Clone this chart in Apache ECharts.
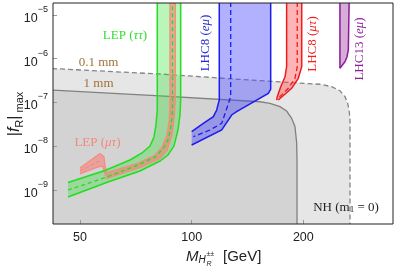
<!DOCTYPE html>
<html><head><meta charset="utf-8">
<script src="https://cdn.jsdelivr.net/npm/echarts@6/dist/echarts.min.js"></script>
<style>html,body{margin:0;padding:0;background:#fff}#c{width:399px;height:271px}</style>
</head><body><div id="c"></div>
<script>
// ---- axis ranges / ticks ----
const xRange = [42.29, 348.9];
const yRange = [1.671e-10, 1.88e-5];
const xTickValues = [50, 100, 200];
const xTickLabels = ['50', '100', '200'];

// ---- displaced-vertex region boundaries (0.1 mm dashed, 1 mm solid) ----
const curve01mm = [[40,6.1e-7],[82.14,4.48e-7],[152.8,3.15e-7],[221.8,2.61e-7],[238.4,2.30e-7],[251.0,1.86e-7],[259.0,1.36e-7],[263.4,9.59e-8],[266.0,6.16e-8],[267.2,3.98e-8],[267.2,1e-10]];
const curve1mm = [[40,1.96e-7],[82.14,1.41e-7],[152.8,1.04e-7],[162.6,9.59e-8],[173.0,8.02e-8],[180.3,6.39e-8],[186.0,4.35e-8],[189.9,2.80e-8],[191.9,1.19e-8],[192.3,4.85e-9],[192.3,1e-10]];

// ---- LEP (tau tau) band ----
const lepTauUpper = [[46.41,1.48e-9],[58.38,2.79e-9],[68.20,4.85e-9],[73.47,7.01e-9],[77.20,1.01e-8],[79.15,1.63e-8],[80.13,3.06e-8],[80.78,6.74e-8],[80.78,3e-5]];
const lepTauLower = [[46.41,6.92e-10],[59.48,1.52e-9],[72.56,2.72e-9],[82.14,4.60e-9],[86.33,6.31e-9],[89.60,1.01e-8],[91.85,2.35e-8],[93.00,5.18e-8],[93.40,1.14e-7],[93.40,3e-5]];
const lepTauCenter = [[46.41,1.0e-9],[59.48,2.03e-9],[71.67,3.73e-9],[79.63,5.68e-9],[83.69,8.65e-9],[86.33,1.39e-8],[87.95,2.75e-8],[88.78,6.74e-8],[88.78,3e-5]];

// ---- LEP (mu tau) band ----
const lepMuTauUpper = [[50,3.18e-9],[56.60,6.83e-9],[58.02,5.83e-9],[58.38,3.73e-9],[58.93,2.45e-9],[71.67,4.14e-9],[79.63,6.31e-9],[83.18,9.61e-9],[85.79,1.81e-8],[87.03,3.98e-8],[87.41,1.14e-7],[87.41,3e-5]];
const lepMuTauLower = [[50,2.32e-9],[55.90,3.36e-9],[57.67,3.45e-9],[58.20,2.58e-9],[59.11,1.83e-9],[73.34,3.36e-9],[82.14,5.25e-9],[85.79,7.79e-9],[88.50,1.81e-8],[89.88,5.18e-8],[90.33,1.14e-7],[90.33,3e-5]];
const lepMuTauCenter = [[50,2.72e-9],[56.6,4.72e-9]];

// ---- LHC8 (e mu) band ----
const lhc8EmuLeft = [[118.7,3e-5],[118.7,1.14e-7],[116.8,6.74e-8],[114.4,4.74e-8],[107.5,3.35e-8],[100.0,2.15e-8]];
const lhc8EmuRight = [[163.3,3e-5],[163.3,2.00e-7],[160.9,1.62e-7],[132.2,6.16e-8],[128.2,5.18e-8],[120.5,2.35e-8],[100.0,1.07e-8]];
const lhc8EmuCenter = [[127.4,3e-5],[127.4,1.36e-7],[124.8,8.02e-8],[120.5,3.35e-8],[112.0,2.35e-8],[101.0,1.65e-8]];

// ---- LHC8 (mu tau) band ----
const lhc8MuTauLeft = [[180.3,3e-5],[180.3,6.58e-7],[178.5,3.89e-7],[173.8,2.30e-7],[170.1,1.36e-7],[169.5,1.14e-7]];
const lhc8MuTauRight = [[198.0,3e-5],[198.0,6.58e-7],[193.8,3.57e-7],[186.0,2.11e-7],[171.2,1.14e-7]];
const lhc8MuTauCenter = [[192.6,3e-5],[192.6,6.58e-7],[189.9,3.57e-7],[182.2,2.11e-7],[171.2,1.25e-7]];

// ---- LHC13 (e mu) band ----
const lhc13EmuLeft = [[251.0,3e-5],[251.0,6.05e-7]];
const lhc13EmuRight = [[266.0,3e-5],[264.4,1.585e-6],[262.2,1.096e-6],[259.0,8.56e-7],[251.0,6.05e-7]];

// ---------------------------------------------------------------
function polygonSeries(pts, fill, z) {
  return {
    type: 'custom', coordinateSystem: 'cartesian2d', xAxisIndex: 0, yAxisIndex: 0,
    clip: true, silent: true, z: z, data: pts, encode: { x: 0, y: 1 },
    renderItem: function (params, api) {
      if (params.dataIndex !== 0) return null;
      return { type: 'polygon', shape: { points: pts.map(function (p) { return api.coord(p); }) },
        style: { fill: fill, stroke: null } };
    }
  };
}
function lineSeries(pts, stroke, width, dash, z) {
  return {
    type: 'custom', coordinateSystem: 'cartesian2d', xAxisIndex: 0, yAxisIndex: 0,
    clip: true, silent: true, z: z, data: pts, encode: { x: 0, y: 1 },
    renderItem: function (params, api) {
      if (params.dataIndex !== 0) return null;
      return { type: 'polyline', shape: { points: pts.map(function (p) { return api.coord(p); }) },
        style: { fill: null, stroke: stroke, lineWidth: width, lineDash: dash || null } };
    }
  };
}
function band(upper, lower) { return upper.concat(lower.slice().reverse()); }
function floorOf(curve) { return curve.concat([[40, 1e-10]]); }

const series = [
  polygonSeries(floorOf(curve01mm), '#e6e6e6', 1),
  polygonSeries(floorOf(curve1mm), '#d3d3d3', 2),
  lineSeries(curve01mm, '#858585', 1.3, [5, 3], 3),
  lineSeries(curve1mm, '#808080', 1.3, null, 3),

  polygonSeries(band(lepTauUpper, lepTauLower), 'rgba(40,225,40,0.32)', 4),
  polygonSeries(band(lepMuTauUpper, lepMuTauLower), 'rgba(250,120,110,0.55)', 5),
  lineSeries(lepMuTauUpper, '#f58c82', 1.3, null, 6),
  lineSeries(lepMuTauLower, '#f58c82', 1.3, null, 6),
  lineSeries(lepMuTauCenter, '#f58c82', 1.2, [4, 2], 6),
  lineSeries(lepTauUpper, '#22dd22', 1.5, null, 7),
  lineSeries(lepTauLower, '#22dd22', 1.5, null, 7),
  lineSeries(lepTauCenter, '#22dd22', 1.3, [4, 3], 7),

  polygonSeries(band(lhc8EmuLeft, lhc8EmuRight), 'rgba(70,70,255,0.42)', 4),
  lineSeries(lhc8EmuLeft, '#1c1cf0', 1.5, null, 7),
  lineSeries(lhc8EmuRight, '#1c1cf0', 1.5, null, 7),
  lineSeries(lhc8EmuCenter, '#1c1cf0', 1.3, [5, 3], 7),

  polygonSeries(band(lhc8MuTauLeft, lhc8MuTauRight), 'rgba(255,70,70,0.4)', 4),
  lineSeries(lhc8MuTauLeft, '#f01c1c', 1.5, null, 7),
  lineSeries(lhc8MuTauRight, '#f01c1c', 1.5, null, 7),
  lineSeries(lhc8MuTauCenter, '#f01c1c', 1.3, [5, 3], 7),

  polygonSeries(band(lhc13EmuLeft, lhc13EmuRight), 'rgba(150,40,150,0.38)', 4),
  lineSeries(lhc13EmuLeft, '#8b1a9b', 1.5, null, 7),
  lineSeries(lhc13EmuRight, '#8b1a9b', 1.5, null, 7)
];

const serif = '"Liberation Serif", "DejaVu Serif", serif';
const sans = '"Liberation Sans", Arial, sans-serif';
function ann(x, y, text, color, rot) {
  return {
    type: 'text', x: x, y: y, rotation: rot || 0, z: 50, silent: true,
    style: {
      text: text, fill: color, align: 'center', verticalAlign: 'middle',
      font: '13px ' + serif,
      rich: {
        n: { fontSize: 13, fontFamily: serif, fill: color },
        i: { fontSize: 13, fontFamily: serif, fontStyle: 'italic', fill: color },
        sub: { fontSize: 9, fontFamily: serif, fill: color, verticalAlign: 'bottom' }
      }
    }
  };
}

const chart = echarts.init(document.getElementById('c'), null, { renderer: 'canvas' });
chart.setOption({
  animation: false,
  backgroundColor: '#ffffff',
  grid: { left: 53, right: 6, top: 3, bottom: 47 },
  xAxis: [
    { type: 'log', logBase: 10, min: xRange[0], max: xRange[1], z: 10,
      axisLine: { show: false }, axisTick: { show: false }, axisLabel: { show: false }, splitLine: { show: false } },
    { type: 'value', min: Math.log10(xRange[0]), max: Math.log10(xRange[1]), position: 'bottom', z: 10,
      axisLine: { show: false }, splitLine: { show: false },
      axisTick: { show: true, inside: true, length: 4, lineStyle: { color: '#999' },
        customValues: xTickValues.map(function (v) { return Math.log10(v); }) },
      axisLabel: { show: true, margin: 7, color: '#222', fontSize: 12.5, fontFamily: sans,
        customValues: xTickValues.map(function (v) { return Math.log10(v); }),
        formatter: function (v) {
          const i = xTickValues.findIndex(function (t) { return Math.abs(Math.log10(t) - v) < 1e-6; });
          return i >= 0 ? xTickLabels[i] : '';
        } } }
  ],
  yAxis: [
    { type: 'log', logBase: 10, min: yRange[0], max: yRange[1], z: 10,
      axisLine: { show: false }, splitLine: { show: false },
      axisTick: { show: true, inside: true, length: 4, lineStyle: { color: '#999' } },
      axisLabel: { show: true, margin: 5, color: '#222', showMinLabel: false, showMaxLabel: false,
        formatter: function (v) {
          const l = Math.log10(v), e = Math.round(l);
          if (Math.abs(l - e) > 1e-6) return '';
          return '{b|10}{s|\u2212' + (-e) + '}';
        },
        rich: {
          b: { fontSize: 12.5, fontFamily: sans, color: '#222', lineHeight: 20, verticalAlign: 'bottom' },
          s: { fontSize: 9, fontFamily: sans, color: '#222', verticalAlign: 'top' }
        } } }
  ],
  series: series,
  graphic: [
    { type: 'rect', z: 60, silent: true, shape: { x: 53, y: 3, width: 340, height: 221 },
      style: { fill: null, stroke: '#222', lineWidth: 1 } },
    ann(125, 35.5, '{n|LEP (}{i|\u03c4\u03c4}{n|)}', '#2fdf2f'),
    ann(98.5, 62.5, '{n|0.1 mm}', '#a3703d'),
    ann(98.5, 83.5, '{n|1 mm}', '#a3703d'),
    ann(97.5, 142.5, '{n|LEP (}{i|\u03bc\u03c4}{n|)}', '#f4877d'),
    ann(206, 43, '{n|LHC8 (}{i|e\u03bc}{n|)}', '#2323e0', Math.PI / 2),
    ann(313, 44, '{n|LHC8 (}{i|\u03bc\u03c4}{n|)}', '#ee2020', Math.PI / 2),
    ann(360, 49, '{n|LHC13 (}{i|e\u03bc}{n|)}', '#8a2296', Math.PI / 2),
    ann(346, 208, '{n|NH (m}{sub|1}{n| = 0)}', '#222222'),
    // y-axis title
    { type: 'text', x: 15, y: 114, rotation: Math.PI / 2, z: 50, silent: true,
      style: { text: '{n||}{i|f}{sub|R}{n||}{sub| max}', align: 'center', verticalAlign: 'middle', fill: '#222',
        rich: {
          n: { fontSize: 16, fontFamily: sans, fill: '#222', lineHeight: 20 },
          i: { fontSize: 16, fontFamily: sans, fontStyle: 'italic', fill: '#222', lineHeight: 20 },
          sub: { fontSize: 11, fontFamily: sans, fill: '#222', verticalAlign: 'bottom' }
        } } },
    // x-axis title
    { type: 'text', x: 186, y: 257, z: 50, silent: true,
      style: { text: 'M', font: 'italic 15px ' + sans, fill: '#222', align: 'left', verticalAlign: 'middle' } },
    { type: 'text', x: 198.5, y: 260, z: 50, silent: true,
      style: { text: 'H', font: 'italic 10px ' + sans, fill: '#222', align: 'left', verticalAlign: 'middle' } },
    { type: 'text', x: 206.5, y: 254.5, z: 50, silent: true,
      style: { text: '\u00b1\u00b1', font: '7px ' + sans, fill: '#222', align: 'left', verticalAlign: 'middle' } },
    { type: 'text', x: 206.5, y: 264, z: 50, silent: true,
      style: { text: 'R', font: 'italic 7px ' + sans, fill: '#222', align: 'left', verticalAlign: 'middle' } },
    { type: 'text', x: 223, y: 257, z: 50, silent: true,
      style: { text: '[GeV]', font: '15px ' + sans, fill: '#222', align: 'left', verticalAlign: 'middle' } }
  ]
});
</script>
</body></html>
